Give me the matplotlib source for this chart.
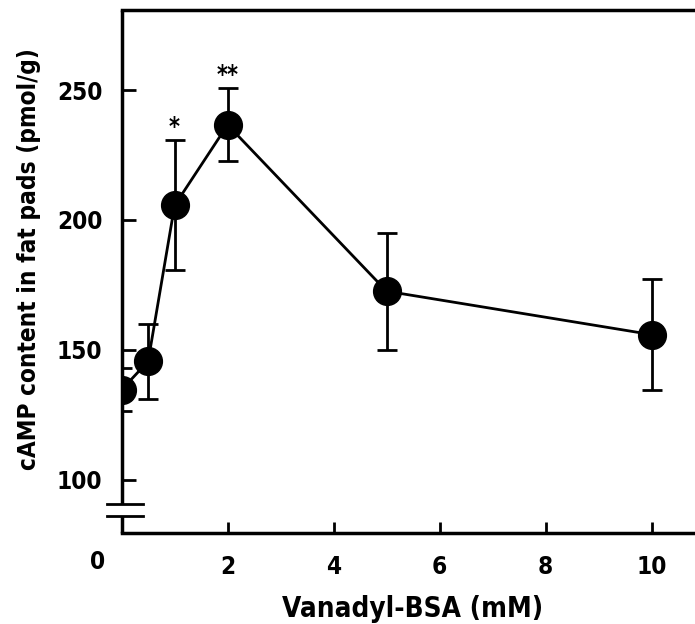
import numpy as np
import matplotlib
matplotlib.use('Agg')
import matplotlib.pyplot as plt
import matplotlib.transforms as mtransforms

plt.rcParams['font.family'] = ['DejaVu Sans']
plt.rcParams['font.stretch'] = 'condensed'
plt.rcParams['font.weight'] = 'bold'

# data
dose = [0, 0.5, 1, 2, 5, 10]
camp = [134.7, 145.6, 205.6, 236.6, 172.6, 155.9]
err = [8.2, 14.5, 25.0, 14.0, 22.5, 21.3]
stars = {1: '*', 2: '**'}
xticks = [2, 4, 6, 8, 10]
yticks = [100, 150, 200, 250]

fig = plt.figure(figsize=(6.95, 6.24), dpi=100)
ax = fig.add_axes([0.175, 0.146, 0.825, 0.838])

ax.errorbar(dose, camp, yerr=err, color='black', lw=2, marker='o', ms=20,
            elinewidth=2, capsize=7, capthick=2, zorder=3)

for x, s in stars.items():
    i = dose.index(x)
    ax.text(x, camp[i] + err[i] + 5, s, ha='center', va='center',
            fontsize=17, fontweight='bold')

ax.set_xlim(0, 10.82)
ax.set_ylim(79.6, 280.8)
ax.set_xticks(xticks)
ax.set_yticks(yticks)
ax.tick_params(direction='in', width=2, labelsize=17.5)
ax.tick_params(axis='y', length=10, pad=14)
ax.tick_params(axis='x', length=8, pad=16)
trans = mtransforms.blended_transform_factory(ax.transData, ax.transAxes)
ax.text(-0.46, -0.032, '0', transform=trans, fontsize=17.5, fontweight='bold',
        ha='center', va='top')

for side in ['bottom', 'top']:
    ax.spines[side].set_linewidth(2.5)
ax.spines['right'].set_visible(False)
ax.spines['left'].set_visible(False)

# broken y axis
ax.plot([0, 0], [79.6, 86.1], color='black', lw=2.5, clip_on=False, solid_capstyle='butt')
ax.plot([0, 0], [90.7, 280.8], color='black', lw=2.5, clip_on=False, solid_capstyle='butt')
for yb in [86.1, 90.7]:
    ax.plot([-0.28, 0.4], [yb, yb], color='black', lw=2, clip_on=False)

ax.set_xlabel('Vanadyl-BSA (mM)', fontsize=20, fontweight='bold')
ax.xaxis.set_label_coords(0.508, -0.118)
ax.set_ylabel('cAMP content in fat pads (pmol/g)', fontsize=17.5, fontweight='bold')
ax.yaxis.set_label_coords(-0.14, 0.524)

fig.savefig('out.png', dpi=100)
